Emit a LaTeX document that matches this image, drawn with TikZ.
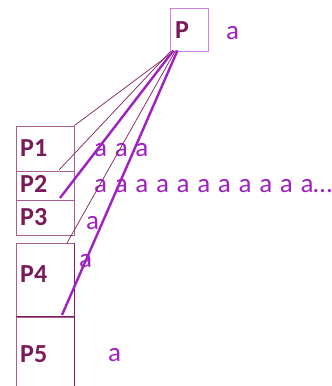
\documentclass[tikz,border=0pt]{standalone}
\usepackage{fontspec}
\setmainfont{Carlito}
\usepackage{tikz}
\definecolor{boxline}{RGB}{166,96,150}
\definecolor{darkline}{RGB}{125,30,90}
\definecolor{plabel}{RGB}{122,26,88}
\definecolor{pboxline}{RGB}{208,128,224}
\definecolor{vio}{RGB}{160,32,192}
\newcommand\arowfont{\fontsize{27}{30}\selectfont\spaceskip 7.7pt plus 0pt\relax}

\begin{document}
\begin{tikzpicture}[x=1pt,y=-1pt,
  pbox/.style={draw=boxline,line width=.9pt,minimum width=58pt,inner sep=0pt},
  plab/.style={anchor=west,inner sep=0pt,text=plabel,font=\fontsize{26}{30}\selectfont\bfseries},
  alab/.style={anchor=west,inner sep=0pt,text=vio,font=\arowfont},
  thin/.style={darkline,line width=.7pt},
  thick/.style={vio,line width=2.4pt}]
\useasboundingbox (0,0) rectangle (332,386);
% top box
\node (top) [draw=pboxline,line width=1pt,minimum width=38pt,minimum height=43pt,inner sep=0pt] at (189,29.5) {};
\node (toplab) [plab] at (175,30.5) {P};
\node (topa) [alab] at (226,33.5) {a};
% stack
\node (p1) [pbox,minimum height=45pt] at (45,148.5) {};
\node (p2) [pbox,minimum height=29pt] at (45,185.5) {};
\node (p3) [pbox,minimum height=35pt] at (45,217.5) {};
\node (p4) [pbox,minimum height=74pt] at (45,280) {};
\node (p5) [pbox,minimum height=74pt] at (45,354) {};
\draw [darkline,line width=.9pt] (p4.north east) -- (p5.south east);
\draw [darkline,line width=.9pt] (p5.north west) -- (p5.north east);
\node (l1) [plab] at (20,148) {P1};
\node (l2) [plab] at (20,184) {P2};
\node (l3) [plab] at (20,217) {P3};
\node (l4) [plab] at (20,274) {P4};
\node (l5) [plab] at (20,354) {P5};
% rows of a
\node (a1) [alab] at (94,150.5) {a a a};
\node (a2) [alab] at (94,186.5) {a a a a a a a a a a a…};
\node (a3) [alab] at (86,223.5) {a};
\node (a4) [alab] at (79,261.5) {a};
\node (a5) [alab] at (108,355.5) {a};
% links
\coordinate (e2) at (59,170);
\coordinate (e3) at (60,198);
\coordinate (e4) at (67,243);
\coordinate (e5) at (62,315);
\draw [thin] ([yshift=-3pt]top.south west) -- (p1.north east);
\draw [thin] ([xshift=1pt]top.south west) -- (e2);
\draw [thick] ([xshift=4pt,yshift=1pt]top.south west) -- (e3);
\draw [thin] ([xshift=6pt,yshift=1pt]top.south west) -- (e4);
\draw [thick] ([xshift=8pt,yshift=1pt]top.south west) -- (e5);
\end{tikzpicture}
\end{document}
